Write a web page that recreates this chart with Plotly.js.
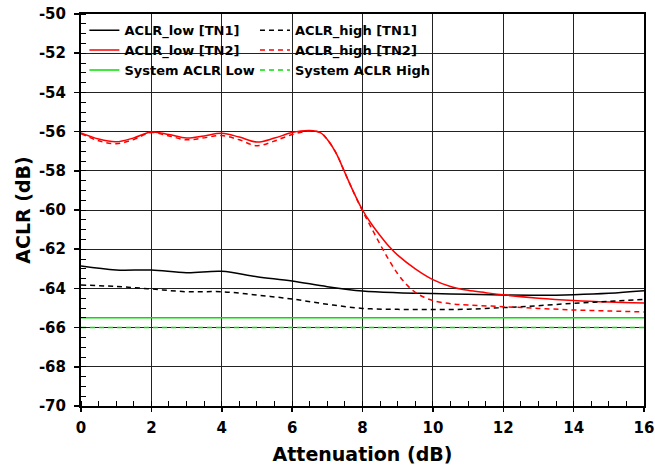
<!DOCTYPE html>
<html>
<head>
<meta charset="utf-8">
<script src="https://cdn.plot.ly/plotly-3.0.1.min.js"></script>
<style>html,body{margin:0;padding:0;background:#fff;}#chart{width:655px;height:465px;}</style>
</head>
<body>
<div id="chart"></div>
<script>
// Attenuation (dB) sample points
var xLowTN2  = [0,0.5,1,1.5,2,2.5,3,3.5,4,4.5,5,5.5,6,6.5,6.8,7,7.25,7.5,7.75,8,8.25,8.5,8.75,9,9.5,10,10.5,11,11.5,12,13,14,15,16];
var yLowTN2  = [-56.07,-56.38,-56.52,-56.32,-56.02,-56.15,-56.33,-56.22,-56.09,-56.28,-56.53,-56.33,-56.05,-55.95,-56.05,-56.4,-57.1,-58.1,-59.1,-60.0,-60.7,-61.3,-61.85,-62.3,-63.0,-63.55,-63.9,-64.1,-64.22,-64.33,-64.5,-64.62,-64.7,-64.75];

var xHighTN2 = [0,0.5,1,1.5,2,2.5,3,3.5,4,4.5,5,5.5,6,6.5,6.8,7,7.25,7.5,7.75,8,8.25,8.5,8.75,9,9.25,9.5,9.75,10,10.5,11,12,13,14,15,16];
var yHighTN2 = [-56.1,-56.47,-56.62,-56.4,-56.05,-56.22,-56.42,-56.32,-56.2,-56.42,-56.72,-56.48,-56.15,-55.97,-56.05,-56.4,-57.1,-58.1,-59.1,-60.05,-60.9,-61.75,-62.55,-63.25,-63.8,-64.2,-64.45,-64.62,-64.78,-64.85,-64.93,-65.02,-65.1,-65.15,-65.2];

var xTN1     = [0,1,2,3,4,5,6,7,8,9,10,11,12,13,14,15,16];
var yLowTN1  = [-62.86,-63.06,-63.06,-63.2,-63.13,-63.4,-63.62,-63.91,-64.13,-64.22,-64.26,-64.3,-64.34,-64.35,-64.32,-64.25,-64.12];
var yHighTN1 = [-63.83,-63.9,-64.03,-64.17,-64.17,-64.34,-64.54,-64.81,-65.02,-65.07,-65.08,-65.06,-64.98,-64.88,-64.76,-64.66,-64.56];

var xSys     = [0,16];
var ySysLow  = [-65.5,-65.5];
var ySysHigh = [-66,-66];

var names = ['ACLR_low [TN1]','ACLR_high [TN1]','ACLR_low [TN2]','ACLR_high [TN2]','System ACLR Low','System ACLR High'];
var xTicks = [0,2,4,6,8,10,12,14,16];
var yTicks = [-50,-52,-54,-56,-58,-60,-62,-64,-66,-68,-70];

var FONT = 'DejaVu Sans';
function tr(x,y,name,color,dash,leg){
  return {x:x,y:y,name:name,type:'scatter',mode:'lines',legend:leg,
    line:{color:color,width:1.5,dash:dash,shape:'spline',smoothing:1}};
}
var data = [
  tr(xTN1,yLowTN1,names[0],'#000000','solid','legend'),
  tr(xLowTN2,yLowTN2,names[2],'#ff0000','solid','legend'),
  tr(xSys,ySysLow,names[4],'#00e000','solid','legend'),
  tr(xTN1,yHighTN1,names[1],'#000000','5px,4px','legend2'),
  tr(xHighTN2,yHighTN2,names[3],'#ff0000','5px,4px','legend2'),
  tr(xSys,ySysHigh,names[5],'#00e000','5px,4px','legend2')
];
var legFont = {family:FONT,size:13,color:'#000',weight:'bold'};
var layout = {
  width:655,height:465,
  margin:{l:81,r:11,t:14,b:59},
  paper_bgcolor:'#fff',plot_bgcolor:'#fff',
  showlegend:true,
  font:{family:FONT,color:'#000',weight:'bold'},
  legend:{x:0.006,y:0.997,xanchor:'left',yanchor:'top',bgcolor:'rgba(0,0,0,0)',font:legFont,tracegroupgap:0},
  legend2:{x:0.309,y:0.997,xanchor:'left',yanchor:'top',bgcolor:'rgba(0,0,0,0)',font:legFont,tracegroupgap:0},
  xaxis:{range:[0,16],tickvals:xTicks,ticktext:xTicks.map(String),
    showgrid:true,gridcolor:'#222',gridwidth:1,zeroline:false,
    showline:true,linecolor:'#000',linewidth:2,mirror:true,
    ticks:'outside',ticklen:4,tickwidth:1.5,tickcolor:'#000',ticklabelstandoff:3,
    minor:{dtick:0.5,ticks:'inside',ticklen:5,tickwidth:1,tickcolor:'#000',showgrid:false},
    tickfont:{family:FONT,size:15,weight:'bold',color:'#000'},
    title:{text:'Attenuation (dB)',font:{family:FONT,size:19,weight:'bold',color:'#000'},standoff:12}},
  yaxis:{range:[-70,-50],tickvals:yTicks,ticktext:yTicks.map(String),
    showgrid:true,gridcolor:'#222',gridwidth:1,zeroline:false,
    showline:true,linecolor:'#000',linewidth:2,mirror:true,
    ticks:'outside',ticklen:5,tickwidth:1.5,tickcolor:'#000',ticklabelstandoff:5,
    minor:{dtick:0.5,ticks:'inside',ticklen:5,tickwidth:1,tickcolor:'#000',showgrid:false},
    tickfont:{family:FONT,size:15,weight:'bold',color:'#000'},
    title:{text:'ACLR (dB)',font:{family:FONT,size:19,weight:'bold',color:'#000'},standoff:3}}
};
Plotly.newPlot('chart',data,layout,{displayModeBar:false,staticPlot:true});
</script>
</body>
</html>
